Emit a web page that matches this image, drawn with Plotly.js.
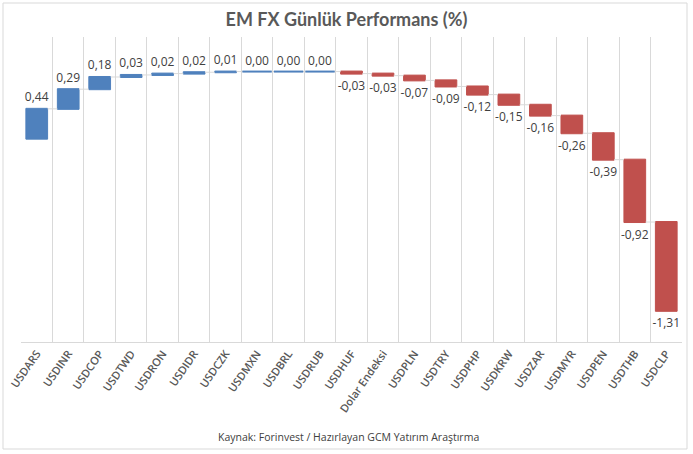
<!DOCTYPE html>
<html>
<head>
<meta charset="utf-8">
<script src="https://cdn.plot.ly/plotly-3.0.1.min.js"></script>
<style>html,body{margin:0;padding:0;background:#fff;}#chart{width:693px;height:454px;}</style>
</head>
<body>
<div id="chart"></div>
<script>
const categories = ["USDARS","USDINR","USDCOP","USDTWD","USDRON","USDIDR","USDCZK","USDMXN","USDBRL","USDRUB","USDHUF","Dolar Endeksi","USDPLN","USDTRY","USDPHP","USDKRW","USDZAR","USDMYR","USDPEN","USDTHB","USDCLP"];
const values = [0.44,0.29,0.18,0.03,0.02,0.02,0.01,0.00,0.00,0.00,-0.03,-0.03,-0.07,-0.09,-0.12,-0.15,-0.16,-0.26,-0.39,-0.92,-1.31];
const labels = values.map(v => v.toFixed(2).replace('.', ','));

const FONT = "'Open Sans', Lato, sans-serif";
const BLUE = '#4F81BD', RED = '#C0504D';

// cumulative level after each step (used to show zero-change steps as thin bars)
const cum = [];
values.reduce((s, v, i) => (cum[i] = s + v), 0);
const zeroX = categories.filter((c, i) => values[i] === 0);
const zeroY = cum.filter((c, i) => values[i] === 0);

const trace = {
  type: 'waterfall',
  x: categories,
  y: values,
  measure: values.map(() => 'relative'),
  text: labels,
  textposition: 'outside',
  constraintext: 'none',
  cliponaxis: false,
  textfont: {family: FONT, size: 12, color: '#404040', weight: 500},
  increasing: {marker: {color: BLUE, line: {color: BLUE, width: 1}}},
  decreasing: {marker: {color: RED, line: {color: RED, width: 1}}},
  connector: {mode: 'between', line: {color: '#d9d9d9', width: 1}},
  hoverinfo: 'none'
};

const zeros = {
  type: 'scatter', mode: 'markers',
  x: zeroX, y: zeroY,
  marker: {symbol: 'line-ew', size: 21, line: {color: BLUE, width: 2}},
  hoverinfo: 'none', cliponaxis: false
};

const layout = {
  width: 693, height: 454,
  margin: {l: 21, r: 11, t: 37, b: 112},
  paper_bgcolor: '#fff', plot_bgcolor: '#fff',
  showlegend: false,
  waterfallgap: 0.31,
  title: {text: '<b>EM FX Günlük Performans (%)</b>', font: {family: "Lato, 'Open Sans', sans-serif", size: 18, color: '#595959'}, x: 0.5, xanchor: 'center', y: 0.956, yanchor: 'middle', yref: 'container'},
  xaxis: {
    type: 'category',
    tickson: 'boundaries',
    showgrid: true, gridcolor: '#d9d9d9', gridwidth: 1,
    showline: true, linecolor: '#d9d9d9', linewidth: 1,
    ticks: '', tickangle: -55,
    tickfont: {family: FONT, size: 11, color: '#595959', weight: 600},
    fixedrange: true
  },
  yaxis: {
    range: [-3, 1.5],
    showgrid: false, zeroline: false, showticklabels: false, showline: false, ticks: '',
    fixedrange: true
  },
  annotations: [{
    text: 'Kaynak: Forinvest / Hazırlayan GCM Yatırım Araştırma',
    xref: 'paper', yref: 'paper', x: 0.496, y: -0.311, xanchor: 'center', yanchor: 'middle',
    showarrow: false, font: {family: FONT, size: 10.5, color: '#404040'}
  }],
  shapes: [{
    type: 'rect', xref: 'paper', yref: 'paper',
    x0: (3 - 21) / 661, x1: (687 - 21) / 661,
    y0: (342 - 449) / 305, y1: (342 - 3) / 305,
    line: {color: '#d9d9d9', width: 1}, fillcolor: 'rgba(0,0,0,0)', layer: 'below'
  }]
};

Plotly.newPlot('chart', [trace, zeros], layout, {staticPlot: true, displayModeBar: false});
</script>
</body>
</html>
